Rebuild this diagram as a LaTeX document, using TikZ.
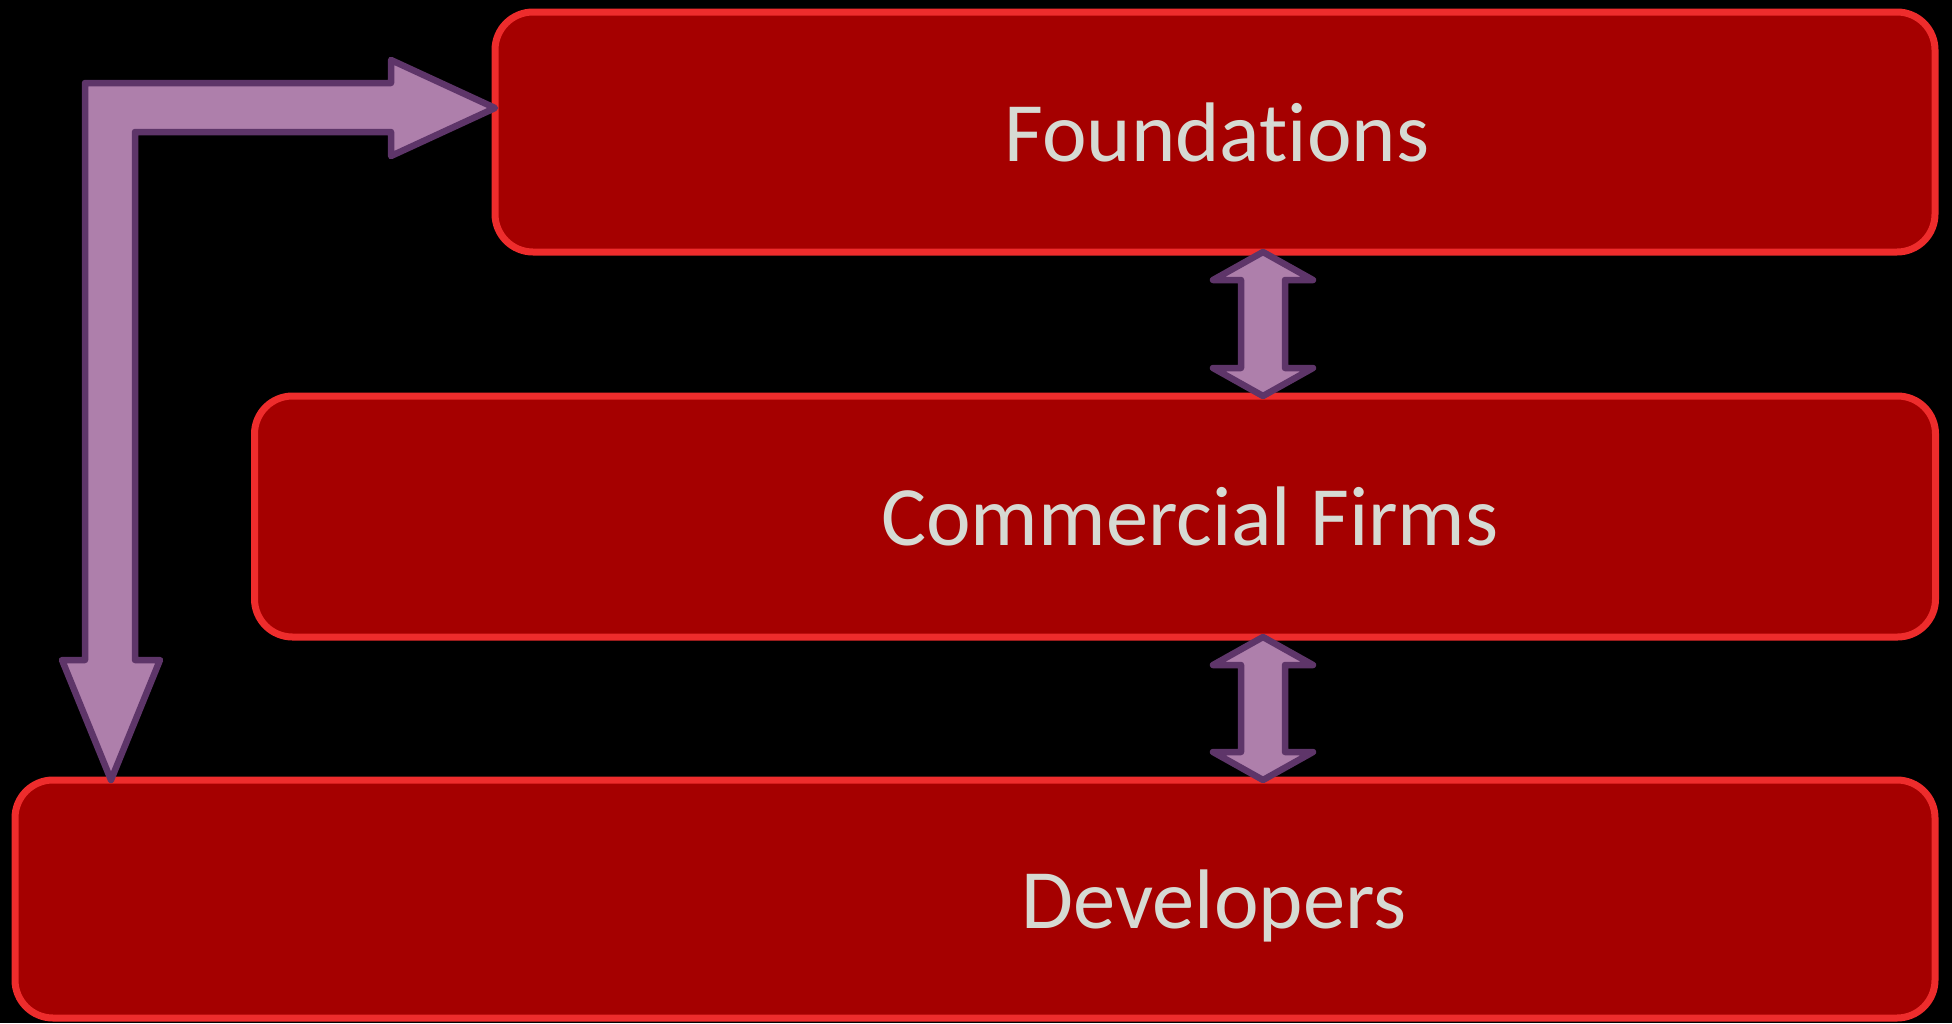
\documentclass[tikz,border=0pt]{standalone}
\usepackage{fontspec}
\setmainfont{Carlito}[RawFeature=-liga]
\usetikzlibrary{calc}
\definecolor{boxfill}{RGB}{165,0,0}
\definecolor{boxline}{RGB}{238,44,44}
\definecolor{arrfill}{RGB}{174,127,171}
\definecolor{arrline}{RGB}{94,53,105}
\definecolor{labeltext}{RGB}{214,218,211}
\begin{document}
\begin{tikzpicture}[x=1pt,y=-1pt,
  tier/.style={rectangle, draw=boxline, fill=boxfill, line width=7pt,
    rounded corners=38pt, inner sep=0pt, outer sep=0pt},
  tierlabel/.style={text=labeltext, font=\fontsize{84.5}{100}\selectfont,
    anchor=base, inner sep=0pt},
  blockarrow/.style={draw=arrline, fill=arrfill, line width=6.5pt, line join=round}]
% background
\fill[black] (0,0) rectangle (1952,1023);
\useasboundingbox (0,0) rectangle (1952,1023);

% the three tiers
\node[tier, minimum width=1440pt, minimum height=240pt] (found) at (1215,132) {};
\node[tier, minimum width=1681pt, minimum height=241pt] (comm) at (1095,516.5) {};
\node[tier, minimum width=1920pt, minimum height=238pt] (dev) at (975,899) {};

\node[tierlabel] (foundlbl) at (1217,161) {Foundations};
\node[tierlabel] (commlbl) at (1190,545) {Commercial Firms};
\node[tierlabel] (devlbl) at (1214,928) {Developers};

% arrow tips on the tiers
\coordinate (bt) at (found.west |- 0,108);
\coordinate (dt) at (111,0 |- dev.north);
\coordinate (a1) at (1263,0 |- found.south);
\coordinate (b1) at (1263,0 |- comm.north);
\coordinate (a2) at (1263,0 |- comm.south);
\coordinate (b2) at (1263,0 |- dev.north);

% bent arrow from the left side, Developers <-> Foundations
\draw[blockarrow] (bt) -- ($(bt)+(-104,-48)$) -- ($(bt)+(-104,-25)$)
  -| ($(dt)+(-26,-120)$) -- ($(dt)+(-49,-120)$) -- (dt)
  -- ($(dt)+(49,-120)$) -- ($(dt)+(24,-120)$) |- ($(bt)+(-104,24)$)
  -- ($(bt)+(-104,48)$) -- cycle;

% double arrows between neighbouring tiers
\foreach \a/\b in {a1/b1, a2/b2}{
  \draw[blockarrow] (\a) -- ($(\a)+(50,28)$) -- ($(\a)+(22,28)$)
    -- ($(\b)+(22,-28)$) -- ($(\b)+(50,-28)$) -- (\b)
    -- ($(\b)+(-50,-28)$) -- ($(\b)+(-22,-28)$)
    -- ($(\a)+(-22,28)$) -- ($(\a)+(-50,28)$) -- cycle;
}
\end{tikzpicture}
\end{document}
